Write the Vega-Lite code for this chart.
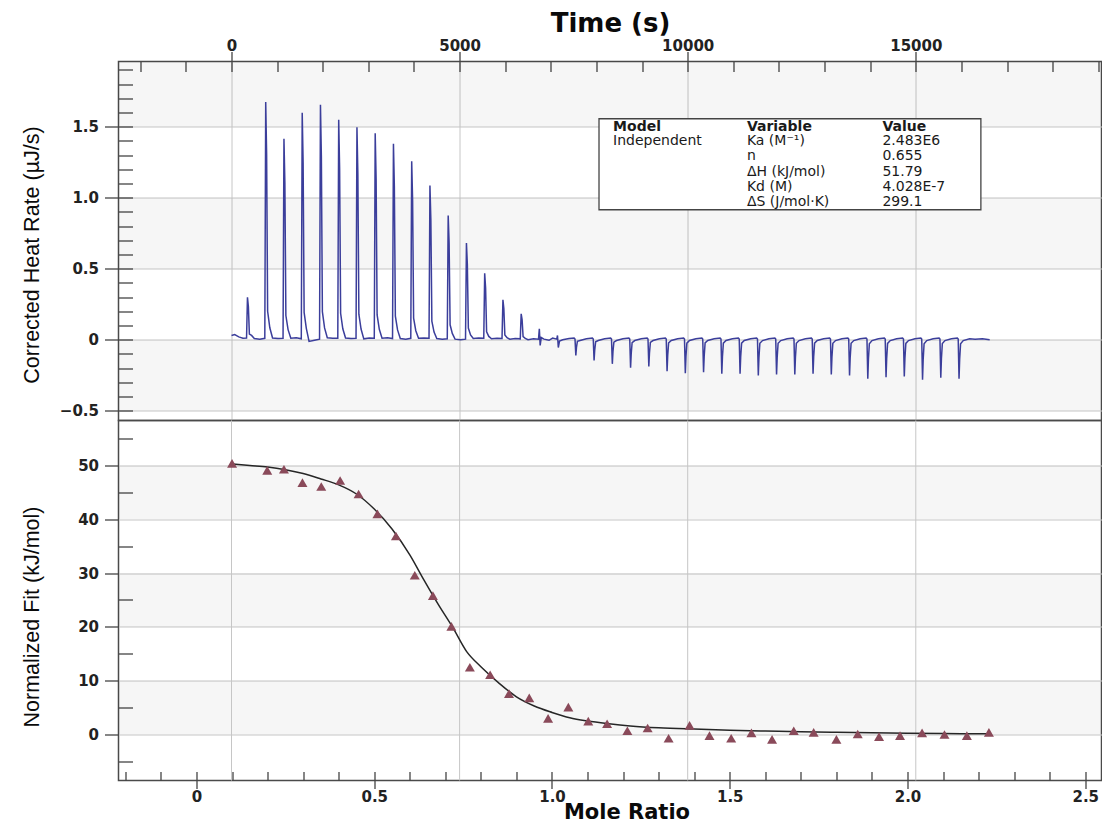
{
  "$schema": "https://vega.github.io/schema/vega-lite/v6.json",
  "background": "white",
  "padding": {"left": 20.5, "top": 9.5, "right": 0, "bottom": 0},
  "spacing": 0,
  "bounds": "flush",
  "config": {
    "view": {"stroke": "#4a4a4a", "strokeWidth": 1.5},
    "axis": {
      "domain": false,
      "labelFont": "DejaVu Sans",
      "labelFontWeight": "bold",
      "labelFontSize": 15,
      "labelColor": "#222",
      "tickColor": "#444",
      "tickWidth": 1.3,
      "gridColor": "#c6c6c6",
      "gridWidth": 1,
      "titleColor": "#0a0a0a"
    }
  },
  "datasets": {
    "topBands": [
      {"q1": 1.5, "q2": 1.959},
      {"q1": 0.5, "q2": 1.0},
      {"q1": -0.5, "q2": 0}
    ],
    "botBands": [
      {"f1": 40, "f2": 50},
      {"f1": 20, "f2": 30},
      {"f1": 0, "f2": 10}
    ],
    "timeGrid": [{"t": 0}, {"t": 5000}, {"t": 10000}, {"t": 15000}],
    "box": [{"t1": 8056, "t2": 16427, "q1": 0.915, "q2": 1.556}],
    "boxHead": [
      {"t": 8365, "q": 1.473, "label": "Model"},
      {"t": 11298, "q": 1.473, "label": "Variable"},
      {"t": 14268, "q": 1.473, "label": "Value"}
    ],
    "boxBody": [
      {"t": 8365, "q": 1.371, "label": "Independent"},
      {"t": 11298, "q": 1.371, "label": "Ka (M⁻¹)"},
      {"t": 14268, "q": 1.371, "label": "2.483E6"},
      {"t": 11298, "q": 1.265, "label": "n"},
      {"t": 14268, "q": 1.265, "label": "0.655"},
      {"t": 11298, "q": 1.156, "label": "ΔH (kJ/mol)"},
      {"t": 14268, "q": 1.156, "label": "51.79"},
      {"t": 11298, "q": 1.049, "label": "Kd (M)"},
      {"t": 14268, "q": 1.049, "label": "4.028E-7"},
      {"t": 11298, "q": 0.944, "label": "ΔS (J/mol·K)"},
      {"t": 14268, "q": 0.944, "label": "299.1"}
    ],
    "thermo": [
      {"t":0,"q":0.03},{"t":70,"q":0.036},{"t":160,"q":0.02},{"t":250,"q":0.01},
      {"t":330,"q":0.012},{"t":350,"q":0.299},{"t":370,"q":0.233},{"t":392,"q":0.04},{"t":440,"q":0.03},{"t":500,"q":0.008},{"t":620,"q":0.004},
      {"t":730,"q":0.01},{"t":750,"q":1.673},{"t":770,"q":1.305},{"t":792,"q":0.2},{"t":840,"q":0.084},{"t":900,"q":0.012},{"t":1020,"q":0.008},
      {"t":1130,"q":0.01},{"t":1150,"q":1.415},{"t":1170,"q":1.104},{"t":1192,"q":0.17},{"t":1240,"q":0.071},{"t":1300,"q":0.01},{"t":1420,"q":0.014},
      {"t":1530,"q":0.006},{"t":1550,"q":1.598},{"t":1570,"q":1.246},{"t":1592,"q":0.192},{"t":1640,"q":0.08},{"t":1700,"q":-0.012},{"t":1820,"q":-0.004},
      {"t":1930,"q":0.004},{"t":1950,"q":1.654},{"t":1970,"q":1.29},{"t":1992,"q":0.198},{"t":2040,"q":0.083},{"t":2100,"q":0.014},{"t":2220,"q":0.01},
      {"t":2330,"q":0.01},{"t":2350,"q":1.549},{"t":2370,"q":1.208},{"t":2392,"q":0.186},{"t":2440,"q":0.077},{"t":2500,"q":0.012},{"t":2620,"q":0.008},
      {"t":2730,"q":0.01},{"t":2750,"q":1.496},{"t":2770,"q":1.167},{"t":2792,"q":0.18},{"t":2840,"q":0.075},{"t":2900,"q":0.006},{"t":3020,"q":0.012},
      {"t":3130,"q":0.01},{"t":3150,"q":1.454},{"t":3170,"q":1.134},{"t":3192,"q":0.174},{"t":3240,"q":0.073},{"t":3300,"q":0.01},{"t":3420,"q":0.014},
      {"t":3530,"q":0.008},{"t":3550,"q":1.38},{"t":3570,"q":1.076},{"t":3592,"q":0.166},{"t":3640,"q":0.069},{"t":3700,"q":0.008},{"t":3820,"q":0.004},
      {"t":3930,"q":0.01},{"t":3950,"q":1.257},{"t":3970,"q":0.98},{"t":3992,"q":0.151},{"t":4040,"q":0.063},{"t":4100,"q":0.01},{"t":4220,"q":0.012},
      {"t":4330,"q":0.01},{"t":4350,"q":1.086},{"t":4370,"q":0.847},{"t":4392,"q":0.13},{"t":4440,"q":0.054},{"t":4500,"q":0.008},{"t":4620,"q":0.004},
      {"t":4730,"q":0.006},{"t":4750,"q":0.875},{"t":4770,"q":0.683},{"t":4792,"q":0.105},{"t":4840,"q":0.044},{"t":4900,"q":0.004},{"t":5020,"q":0.0},
      {"t":5130,"q":0.004},{"t":5150,"q":0.68},{"t":5170,"q":0.53},{"t":5192,"q":0.082},{"t":5240,"q":0.034},{"t":5300,"q":0.008},{"t":5420,"q":0.012},
      {"t":5530,"q":0.01},{"t":5550,"q":0.468},{"t":5570,"q":0.365},{"t":5592,"q":0.056},{"t":5640,"q":0.023},{"t":5700,"q":0.006},{"t":5820,"q":0.01},
      {"t":5930,"q":0.008},{"t":5950,"q":0.281},{"t":5970,"q":0.219},{"t":5992,"q":0.034},{"t":6040,"q":0.014},{"t":6100,"q":0.004},{"t":6220,"q":0.008},
      {"t":6330,"q":0.006},{"t":6350,"q":0.182},{"t":6370,"q":0.142},{"t":6392,"q":0.022},{"t":6440,"q":0.009},{"t":6500,"q":0.0},{"t":6620,"q":0.006},
      {"t":6730,"q":0.004},{"t":6748,"q":0.077},{"t":6766,"q":-0.04},{"t":6790,"q":0.015},{"t":6850,"q":0.004},{"t":6960,"q":-0.004},{"t":7040,"q":0.012},
      {"t":7130,"q":0.004},{"t":7146,"q":0.03},{"t":7164,"q":-0.055},{"t":7190,"q":-0.01},{"t":7260,"q":0.0},{"t":7400,"q":0.008},
      {"t":7510,"q":0.012},{"t":7530,"q":0.004},{"t":7548,"q":-0.111},{"t":7562,"q":-0.055},{"t":7582,"q":-0.012},{"t":7640,"q":-0.006},{"t":7780,"q":0.006},
      {"t":7910,"q":0.012},{"t":7930,"q":0.004},{"t":7948,"q":-0.146},{"t":7962,"q":-0.073},{"t":7982,"q":-0.015},{"t":8040,"q":-0.006},{"t":8180,"q":0.006},
      {"t":8310,"q":0.012},{"t":8330,"q":0.004},{"t":8348,"q":-0.17},{"t":8362,"q":-0.085},{"t":8382,"q":-0.017},{"t":8440,"q":-0.006},{"t":8580,"q":0.006},
      {"t":8710,"q":0.012},{"t":8730,"q":0.004},{"t":8748,"q":-0.198},{"t":8762,"q":-0.099},{"t":8782,"q":-0.02},{"t":8840,"q":-0.006},{"t":8980,"q":0.006},
      {"t":9110,"q":0.012},{"t":9130,"q":0.004},{"t":9148,"q":-0.189},{"t":9162,"q":-0.095},{"t":9182,"q":-0.019},{"t":9240,"q":-0.006},{"t":9380,"q":0.006},
      {"t":9510,"q":0.012},{"t":9530,"q":0.004},{"t":9548,"q":-0.222},{"t":9562,"q":-0.111},{"t":9582,"q":-0.022},{"t":9640,"q":-0.006},{"t":9780,"q":0.006},
      {"t":9910,"q":0.012},{"t":9930,"q":0.004},{"t":9948,"q":-0.236},{"t":9962,"q":-0.118},{"t":9982,"q":-0.024},{"t":10040,"q":-0.006},{"t":10180,"q":0.006},
      {"t":10310,"q":0.012},{"t":10330,"q":0.004},{"t":10348,"q":-0.229},{"t":10362,"q":-0.115},{"t":10382,"q":-0.023},{"t":10440,"q":-0.006},{"t":10580,"q":0.006},
      {"t":10710,"q":0.012},{"t":10730,"q":0.004},{"t":10748,"q":-0.24},{"t":10762,"q":-0.12},{"t":10782,"q":-0.024},{"t":10840,"q":-0.006},{"t":10980,"q":0.006},
      {"t":11110,"q":0.012},{"t":11130,"q":0.004},{"t":11148,"q":-0.24},{"t":11162,"q":-0.12},{"t":11182,"q":-0.024},{"t":11240,"q":-0.006},{"t":11380,"q":0.006},
      {"t":11510,"q":0.012},{"t":11530,"q":0.004},{"t":11548,"q":-0.252},{"t":11562,"q":-0.126},{"t":11582,"q":-0.025},{"t":11640,"q":-0.006},{"t":11780,"q":0.006},
      {"t":11910,"q":0.012},{"t":11930,"q":0.004},{"t":11948,"q":-0.245},{"t":11962,"q":-0.123},{"t":11982,"q":-0.025},{"t":12040,"q":-0.006},{"t":12180,"q":0.006},
      {"t":12310,"q":0.012},{"t":12330,"q":0.004},{"t":12348,"q":-0.245},{"t":12362,"q":-0.123},{"t":12382,"q":-0.025},{"t":12440,"q":-0.006},{"t":12580,"q":0.006},
      {"t":12710,"q":0.012},{"t":12730,"q":0.004},{"t":12748,"q":-0.24},{"t":12762,"q":-0.12},{"t":12782,"q":-0.024},{"t":12840,"q":-0.006},{"t":12980,"q":0.006},
      {"t":13110,"q":0.012},{"t":13130,"q":0.004},{"t":13148,"q":-0.245},{"t":13162,"q":-0.123},{"t":13182,"q":-0.025},{"t":13240,"q":-0.006},{"t":13380,"q":0.006},
      {"t":13510,"q":0.012},{"t":13530,"q":0.004},{"t":13548,"q":-0.252},{"t":13562,"q":-0.126},{"t":13582,"q":-0.025},{"t":13640,"q":-0.006},{"t":13780,"q":0.006},
      {"t":13910,"q":0.012},{"t":13930,"q":0.004},{"t":13948,"q":-0.275},{"t":13962,"q":-0.138},{"t":13982,"q":-0.028},{"t":14040,"q":-0.006},{"t":14180,"q":0.006},
      {"t":14310,"q":0.012},{"t":14330,"q":0.004},{"t":14348,"q":-0.264},{"t":14362,"q":-0.132},{"t":14382,"q":-0.026},{"t":14440,"q":-0.006},{"t":14580,"q":0.006},
      {"t":14710,"q":0.012},{"t":14730,"q":0.004},{"t":14748,"q":-0.259},{"t":14762,"q":-0.13},{"t":14782,"q":-0.026},{"t":14840,"q":-0.006},{"t":14980,"q":0.006},
      {"t":15110,"q":0.012},{"t":15130,"q":0.004},{"t":15148,"q":-0.282},{"t":15162,"q":-0.141},{"t":15182,"q":-0.028},{"t":15240,"q":-0.006},{"t":15380,"q":0.006},
      {"t":15510,"q":0.012},{"t":15530,"q":0.004},{"t":15548,"q":-0.268},{"t":15562,"q":-0.134},{"t":15582,"q":-0.027},{"t":15640,"q":-0.006},{"t":15780,"q":0.006},
      {"t":15910,"q":0.012},{"t":15930,"q":0.004},{"t":15948,"q":-0.275},{"t":15962,"q":-0.138},{"t":15982,"q":-0.028},{"t":16040,"q":-0.006},
      {"t":16180,"q":0.006},{"t":16300,"q":0.004},{"t":16460,"q":0.006},{"t":16620,"q":0.0}
    ],
    "points": [
      {"mr":0.100,"dh":50.4},{"mr":0.199,"dh":49.1},{"mr":0.246,"dh":49.3},{"mr":0.298,"dh":46.8},
      {"mr":0.351,"dh":46.1},{"mr":0.404,"dh":47.2},{"mr":0.456,"dh":44.7},{"mr":0.509,"dh":41.0},
      {"mr":0.561,"dh":36.9},{"mr":0.614,"dh":29.6},{"mr":0.665,"dh":25.8},{"mr":0.717,"dh":20.1},
      {"mr":0.769,"dh":12.5},{"mr":0.826,"dh":11.1},{"mr":0.879,"dh":7.6},{"mr":0.936,"dh":6.8},
      {"mr":0.989,"dh":3.0},{"mr":1.046,"dh":5.1},{"mr":1.102,"dh":2.5},{"mr":1.155,"dh":2.0},
      {"mr":1.212,"dh":0.7},{"mr":1.269,"dh":1.2},{"mr":1.328,"dh":-0.7},{"mr":1.387,"dh":1.7},
      {"mr":1.443,"dh":-0.2},{"mr":1.504,"dh":-0.7},{"mr":1.561,"dh":0.3},{"mr":1.619,"dh":-0.9},
      {"mr":1.680,"dh":0.7},{"mr":1.736,"dh":0.4},{"mr":1.800,"dh":-0.9},{"mr":1.860,"dh":0.1},
      {"mr":1.920,"dh":-0.4},{"mr":1.979,"dh":-0.2},{"mr":2.041,"dh":0.3},{"mr":2.104,"dh":0.0},
      {"mr":2.167,"dh":-0.2},{"mr":2.229,"dh":0.4}
    ],
    "fitCurve": [
      {"mr":0.10,"fit":50.3},{"mr":0.15,"fit":50.0},{"mr":0.20,"fit":49.7},{"mr":0.25,"fit":49.2},
      {"mr":0.30,"fit":48.5},{"mr":0.35,"fit":47.5},{"mr":0.40,"fit":46.4},{"mr":0.45,"fit":44.7},
      {"mr":0.50,"fit":41.9},{"mr":0.55,"fit":38.2},{"mr":0.60,"fit":33.4},{"mr":0.64,"fit":28.7},
      {"mr":0.68,"fit":24.2},{"mr":0.72,"fit":20.0},{"mr":0.76,"fit":15.4},{"mr":0.80,"fit":12.6},
      {"mr":0.85,"fit":9.6},{"mr":0.90,"fit":7.0},{"mr":0.95,"fit":5.3},{"mr":1.00,"fit":4.1},
      {"mr":1.05,"fit":3.1},{"mr":1.10,"fit":2.5},{"mr":1.16,"fit":2.0},{"mr":1.22,"fit":1.6},
      {"mr":1.30,"fit":1.25},{"mr":1.40,"fit":1.0},{"mr":1.50,"fit":0.8},{"mr":1.60,"fit":0.65},
      {"mr":1.70,"fit":0.52},{"mr":1.80,"fit":0.42},{"mr":1.90,"fit":0.33},{"mr":2.00,"fit":0.25},
      {"mr":2.10,"fit":0.18},{"mr":2.229,"fit":0.12}
    ]
  },
  "vconcat": [
    {
      "width": 983,
      "height": 359,
      "layer": [
        {
          "data": {"name": "topBands"},
          "mark": {"type": "rect", "fill": "#000000", "opacity": 0.035},
          "encoding": {
            "y": {"field": "q1", "type": "quantitative", "scale": {"domain": [-0.569, 1.959], "nice": false, "zero": false}, "axis": null},
            "y2": {"field": "q2"}
          }
        },
        {
          "data": {"name": "box"},
          "mark": {"type": "rect", "fill": "white", "stroke": "#444444", "strokeWidth": 1.3},
          "encoding": {
            "x": {"field": "t1", "type": "quantitative", "scale": {"domain": [-2477, 19071], "nice": false, "zero": false},
                  "axis": {"orient": "top", "values": [-2000,-1000,0,1000,2000,3000,4000,5000,6000,7000,8000,9000,10000,11000,12000,13000,14000,15000,16000,17000,18000,19000], "tickSize": 10, "offset": -10, "labels": false, "grid": false, "title": null}},
            "x2": {"field": "t2"},
            "y": {"field": "q1", "type": "quantitative", "scale": {"domain": [-0.569, 1.959], "nice": false, "zero": false},
                  "axis": {"orient": "left", "values": [-0.5,-0.4,-0.3,-0.2,-0.1,0,0.1,0.2,0.3,0.4,0.5,0.6,0.7,0.8,0.9,1,1.1,1.2,1.3,1.4,1.5,1.6,1.7,1.8,1.9], "tickSize": 14, "offset": -14, "labels": false, "grid": false, "title": null}},
            "y2": {"field": "q2"}
          }
        },
        {
          "data": {"name": "thermo"},
          "mark": {"type": "line", "color": "#3b3e9b", "strokeWidth": 1.5},
          "encoding": {
            "x": {"field": "t", "type": "quantitative", "scale": {"domain": [-2477, 19071], "nice": false, "zero": false},
                  "axis": {"orient": "top", "values": [0, 5000, 10000, 15000], "format": "d", "tickSize": 10, "labelPadding": -2, "grid": true,
                           "title": "Time (s)", "titleFont": "DejaVu Sans", "titleFontWeight": "bold", "titleFontSize": 26, "titleY": -30, "titleBaseline": "alphabetic"}},
            "y": {"field": "q", "type": "quantitative", "scale": {"domain": [-0.569, 1.959], "nice": false, "zero": false},
                  "axis": {"orient": "left", "values": [-0.5, 0, 0.5, 1, 1.5], "labelExpr": "datum.value === 0 ? '0' : format(datum.value, '.1f')", "tickSize": 14, "labelPadding": 6, "grid": true,
                           "title": "Corrected Heat Rate (µJ/s)", "titleFont": "Liberation Sans", "titleFontWeight": "normal", "titleFontSize": 21.5,
                           "titleX": -75, "titleY": 193, "titleAngle": 270, "titleBaseline": "bottom", "titleAlign": "center"}}
          }
        },
        {
          "data": {"name": "boxHead"},
          "mark": {"type": "text", "align": "left", "baseline": "alphabetic", "font": "DejaVu Sans", "fontWeight": "bold", "fontSize": 14, "color": "#1a1a1a"},
          "encoding": {
            "x": {"field": "t", "type": "quantitative", "scale": {"domain": [-2477, 19071], "nice": false, "zero": false}, "axis": null},
            "y": {"field": "q", "type": "quantitative", "scale": {"domain": [-0.569, 1.959], "nice": false, "zero": false}, "axis": null},
            "text": {"field": "label"}
          }
        },
        {
          "data": {"name": "boxBody"},
          "mark": {"type": "text", "align": "left", "baseline": "alphabetic", "font": "DejaVu Sans", "fontWeight": "normal", "fontSize": 14, "color": "#1a1a1a"},
          "encoding": {
            "x": {"field": "t", "type": "quantitative", "scale": {"domain": [-2477, 19071], "nice": false, "zero": false}, "axis": null},
            "y": {"field": "q", "type": "quantitative", "scale": {"domain": [-0.569, 1.959], "nice": false, "zero": false}, "axis": null},
            "text": {"field": "label"}
          }
        }
      ],
      "resolve": {"axis": {"x": "independent", "y": "independent"}}
    },
    {
      "width": 983,
      "height": 360,
      "layer": [
        {
          "data": {"name": "botBands"},
          "mark": {"type": "rect", "fill": "#000000", "opacity": 0.035},
          "encoding": {
            "y": {"field": "f1", "type": "quantitative", "scale": {"domain": [-8.55, 58.36], "nice": false, "zero": false}, "axis": null},
            "y2": {"field": "f2"}
          }
        },
        {
          "data": {"name": "timeGrid"},
          "mark": {"type": "rule", "color": "#c6c6c6", "strokeWidth": 1},
          "encoding": {
            "x": {"field": "t", "type": "quantitative", "scale": {"domain": [-2477, 19071], "nice": false, "zero": false}, "axis": null}
          }
        },
        {
          "data": {"name": "fitCurve"},
          "mark": {"type": "line", "color": "#262626", "strokeWidth": 1.5, "interpolate": "monotone"},
          "encoding": {
            "x": {"field": "mr", "type": "quantitative", "scale": {"domain": [-0.2194, 2.5457], "nice": false, "zero": false},
                  "axis": {"orient": "bottom", "values": [0, 0.5, 1, 1.5, 2, 2.5], "labelExpr": "datum.value === 0 ? '0' : format(datum.value, '.1f')", "tickSize": 8, "labelPadding": 1, "grid": false,
                           "title": "Mole Ratio", "titleFont": "DejaVu Sans", "titleFontWeight": "bold", "titleFontSize": 21, "titleX": 508, "titleY": 38, "titleBaseline": "alphabetic", "titleAlign": "center"}},
            "y": {"field": "fit", "type": "quantitative", "scale": {"domain": [-8.55, 58.36], "nice": false, "zero": false},
                  "axis": {"orient": "left", "values": [0, 10, 20, 30, 40, 50], "format": "d", "tickSize": 14, "labelPadding": 6, "grid": true,
                           "title": "Normalized Fit (kJ/mol)", "titleFont": "Liberation Sans", "titleFontWeight": "normal", "titleFontSize": 21.5,
                           "titleX": -75, "titleY": 196, "titleAngle": 270, "titleBaseline": "bottom", "titleAlign": "center"}}
          }
        },
        {
          "data": {"name": "points"},
          "mark": {"type": "point", "shape": "triangle-up", "filled": true, "size": 100, "color": "#8a4a5a", "opacity": 1},
          "encoding": {
            "x": {"field": "mr", "type": "quantitative", "scale": {"domain": [-0.2194, 2.5457], "nice": false, "zero": false},
                  "axis": {"orient": "bottom", "values": [-0.2,-0.1,0,0.1,0.2,0.3,0.4,0.5,0.6,0.7,0.8,0.9,1,1.1,1.2,1.3,1.4,1.5,1.6,1.7,1.8,1.9,2,2.1,2.2,2.3,2.4,2.5], "tickSize": 9, "offset": -9, "labels": false, "grid": false, "title": null}},
            "y": {"field": "dh", "type": "quantitative", "scale": {"domain": [-8.55, 58.36], "nice": false, "zero": false},
                  "axis": {"orient": "left", "values": [-5, 5, 15, 25, 35, 45, 55], "tickSize": 14, "offset": -14, "labels": false, "grid": false, "title": null}}
          }
        }
      ],
      "resolve": {"scale": {"x": "independent"}, "axis": {"x": "independent", "y": "independent"}}
    }
  ]
}
